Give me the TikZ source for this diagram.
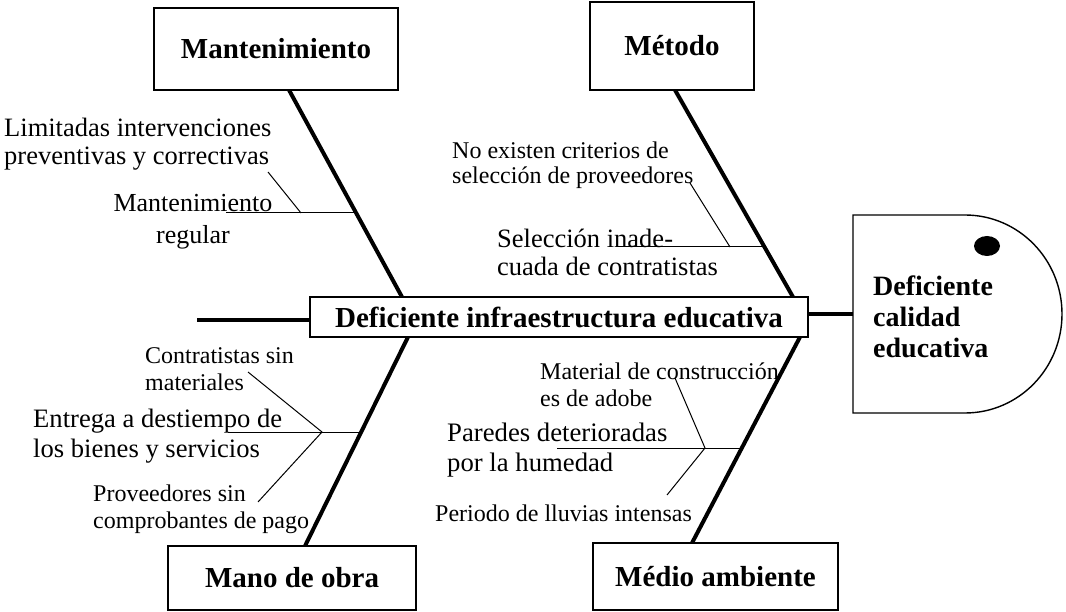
\documentclass[tikz,border=0pt]{standalone}
\usepackage{fontspec}
\setmainfont{Liberation Serif}
\begin{document}
\begin{tikzpicture}[x=1pt,y=-1pt,
  box/.style={draw, line width=1.4pt, inner sep=0pt, font=\fontsize{29}{33}\selectfont\bfseries},
  spine/.style={line width=4pt},
  twig/.style={line width=1pt},
  lbl/.style={inner sep=0pt, align=left, anchor=west},
  big/.style={font=\fontsize{26.5}{28}\selectfont},
  small/.style={font=\fontsize{24}{26}\selectfont}]
\useasboundingbox (0,0) rectangle (1066,612);

% category boxes
\node[box, minimum width=244, minimum height=82] (mant) at (276,49) {Mantenimiento};
\node[box, minimum width=164, minimum height=88] (meto) at (672,46) {Método};
\node[box, minimum width=248, minimum height=64] (mano) at (292,578) {Mano de obra};
\node[box, minimum width=245, minimum height=67] (medio) at (715.5,576.5) {Médio ambiente};
\node[box, minimum width=498, minimum height=40] (main) at (559,317) {Deficiente infraestructura educativa};

% head
\draw[line width=1.4pt] (853,215) -- (965,215) arc[start angle=-90, end angle=90, x radius=97, y radius=99] -- (853,413) -- cycle;
\coordinate (headL) at (853,314);
\fill (987,246) ellipse [x radius=13, y radius=10];
\node[lbl, font=\fontsize{28}{31}\selectfont\bfseries] (headtxt) at (873,317) {Deficiente\\calidad\\educativa};

% backbone
\coordinate (tail) at (197,320);
\draw[spine] (tail) -- (main.west |- tail);
\draw[spine] (main.east |- headL) -- (headL);

% spines
\coordinate (m1) at (289,90);  \coordinate (m2) at (402,297);
\coordinate (t1) at (675,90);  \coordinate (t2) at (793,297);
\coordinate (o1) at (408,337); \coordinate (o2) at (305,546);
\coordinate (a1) at (800,337); \coordinate (a2) at (692,543);
\draw[spine] (m1) -- (m2);
\draw[spine] (t1) -- (t2);
\draw[spine] (o1) -- (o2);
\draw[spine] (a1) -- (a2);

% Mantenimiento twigs
\coordinate (mh0) at (226,213); \coordinate (mh1) at (356,213);
\coordinate (md0) at (268,172); \coordinate (md1) at (301,213);
\draw[twig] (mh0) -- (mh1);
\draw[twig] (md0) -- (md1);

% Metodo twigs
\coordinate (th0) at (617,247); \coordinate (th1) at (764.5,247);
\coordinate (td0) at (690,183); \coordinate (td1) at (730,247);
\draw[twig] (th0) -- (th1);
\draw[twig] (td0) -- (td1);

% Mano de obra twigs
\coordinate (oh0) at (228,432); \coordinate (oh1) at (361,432);
\coordinate (oj) at (322,432);
\coordinate (ou) at (248,372); \coordinate (ol) at (258,502);
\draw[twig] (oh0) -- (oh1);
\draw[twig] (ou) -- (oj) -- (ol);

% Medio ambiente twigs
\coordinate (ah0) at (557,448); \coordinate (ah1) at (742,448);
\coordinate (aj) at (705,448);
\coordinate (au) at (675,378); \coordinate (al) at (667,495);
\draw[twig] (ah0) -- (ah1);
\draw[twig] (au) -- (aj) -- (al);

% labels
\node[lbl, big] (l1) at (4,144) {Limitadas intervenciones\\preventivas y correctivas};
\node[inner sep=0pt, align=center, font=\fontsize{26}{32}\selectfont] (l2) at (193,222) {Mantenimiento\\regular};
\node[lbl, font=\fontsize{24}{25}\selectfont] (l3) at (452,165.5) {No existen criterios de\\selección de proveedores};
\node[lbl, big] (l4) at (497,252) {Selección inade-\\cuada de contratistas};
\node[lbl, small, font=\fontsize{24}{27}\selectfont] (l5) at (145,369.5) {Contratistas sin\\materiales};
\node[lbl, font=\fontsize{26.6}{30}\selectfont] (l6) at (33,436) {Entrega a destiempo de\\los bienes y servicios};
\node[lbl, font=\fontsize{24}{27}\selectfont] (l7) at (93,509.5) {Proveedores sin\\comprobantes de pago};
\node[lbl, font=\fontsize{24}{27}\selectfont] (l8) at (540,384.5) {Material de construcción\\es de adobe};
\node[lbl, font=\fontsize{26.7}{30}\selectfont] (l9) at (447,450) {Paredes deterioradas\\por la humedad};
\node[lbl, small] (l10) at (435,513) {Periodo de lluvias intensas};
\end{tikzpicture}
\end{document}
